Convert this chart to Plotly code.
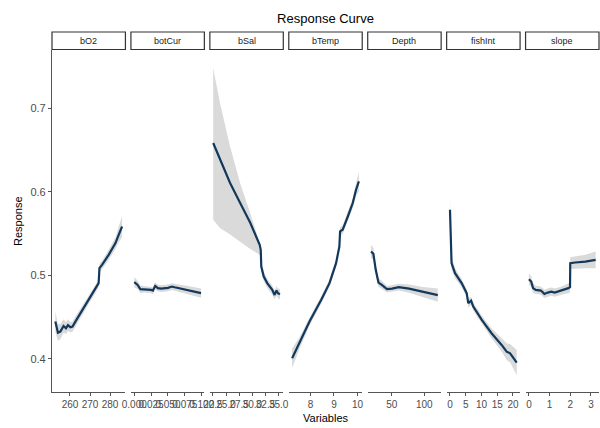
import plotly.graph_objects as go

variables = ["bO2", "botCur", "bSal", "bTemp", "Depth", "fishInt", "slope"]

bO2_x = [252.7, 254, 255.2, 256.8, 258, 259, 260.2, 261.3, 262.7, 266, 269.3, 272.7, 274.3, 274.7, 276, 279.3, 282.7, 284.3, 286]
bO2_y = [0.4447, 0.4315, 0.4327, 0.4395, 0.4368, 0.4404, 0.438, 0.4387, 0.4447, 0.4578, 0.4707, 0.4835, 0.4907, 0.5086, 0.5126, 0.5245, 0.5386, 0.5485, 0.5584]
bO2_lo = [0.4327, 0.4215, 0.4237, 0.4315, 0.4298, 0.4334, 0.432, 0.4327, 0.4387, 0.4528, 0.4657, 0.4785, 0.4857, 0.5036, 0.5076, 0.5185, 0.5316, 0.5395, 0.5454]
bO2_hi = [0.4567, 0.4415, 0.4417, 0.4475, 0.4438, 0.4474, 0.444, 0.4447, 0.4507, 0.4628, 0.4757, 0.4885, 0.4957, 0.5136, 0.5176, 0.5305, 0.5456, 0.5575, 0.5714]

botCur_x = [0.000, 0.005, 0.009, 0.015, 0.025, 0.0277, 0.031, 0.035, 0.040, 0.050, 0.056, 0.060, 0.070, 0.080, 0.090, 0.099]
botCur_y = [0.4919, 0.4886, 0.4835, 0.4835, 0.4826, 0.4818, 0.4874, 0.4847, 0.4842, 0.485, 0.4866, 0.4858, 0.4842, 0.4826, 0.4802, 0.4787]
botCur_lo = [0.4859, 0.4836, 0.4790, 0.4795, 0.4786, 0.4778, 0.4834, 0.4807, 0.4802, 0.4810, 0.4826, 0.4818, 0.4800, 0.4780, 0.4752, 0.4732]
botCur_hi = [0.4979, 0.4936, 0.4880, 0.4875, 0.4866, 0.4858, 0.4914, 0.4887, 0.4882, 0.4890, 0.4906, 0.4898, 0.4884, 0.4872, 0.4852, 0.4842]

bSal_x = [22.56, 23.85, 25.77, 27.69, 29.62, 31.4, 31.6, 31.7, 32.17, 32.83, 33.79, 34.23, 34.6, 34.87, 35.25]
bSal_y = [0.6583, 0.6383, 0.6104, 0.5865, 0.5625, 0.5365, 0.5305, 0.5105, 0.4986, 0.4907, 0.4826, 0.4766, 0.4818, 0.4787, 0.4775]
bSal_lo = [0.5665, 0.5565, 0.549, 0.5405, 0.5315, 0.5245, 0.524, 0.504, 0.493, 0.485, 0.477, 0.471, 0.476, 0.473, 0.471]
bSal_hi = [0.748, 0.706, 0.654, 0.610, 0.574, 0.541, 0.535, 0.516, 0.504, 0.496, 0.488, 0.482, 0.487, 0.484, 0.484]

bTemp_x = [7.22, 7.53, 7.96, 8.46, 8.81, 9.09, 9.23, 9.26, 9.37, 9.59, 9.80, 9.94, 10.06]
bTemp_y = [0.4008, 0.4188, 0.4447, 0.4707, 0.4907, 0.5146, 0.5345, 0.5525, 0.5545, 0.5704, 0.5865, 0.6024, 0.6123]
bTemp_lo = [0.3888, 0.4118, 0.4397, 0.4662, 0.4862, 0.5101, 0.5300, 0.5475, 0.5495, 0.5649, 0.5805, 0.5949, 0.6003]
bTemp_hi = [0.4128, 0.4258, 0.4497, 0.4752, 0.4952, 0.5191, 0.5390, 0.5575, 0.5595, 0.5759, 0.5925, 0.6099, 0.6243]

Depth_x = [18.3, 21.9, 25.5, 29.7, 34.8, 42.7, 50.5, 60.9, 76.6, 97.3, 120.8]
Depth_y = [0.5285, 0.5257, 0.5066, 0.4914, 0.4886, 0.4835, 0.4842, 0.4859, 0.4842, 0.4802, 0.4763]
Depth_lo = [0.5205, 0.5187, 0.5006, 0.4864, 0.4836, 0.4795, 0.4802, 0.4819, 0.4792, 0.4742, 0.4683]
Depth_hi = [0.5365, 0.5327, 0.5126, 0.4964, 0.4936, 0.4875, 0.4882, 0.4899, 0.4892, 0.4862, 0.4843]

fishInt_x = [0, 0.2, 0.5, 1.6, 3.7, 5.3, 5.8, 6.7, 7.4, 10.1, 13.2, 16.4, 18.0, 19.1, 21.2]
fishInt_y = [0.5784, 0.5305, 0.5146, 0.5026, 0.4907, 0.4787, 0.4667, 0.4698, 0.4626, 0.4467, 0.4308, 0.4168, 0.4087, 0.4068, 0.3956]
fishInt_lo = [0.5634, 0.5205, 0.5066, 0.4966, 0.4857, 0.4737, 0.4617, 0.4648, 0.4576, 0.4417, 0.4248, 0.4088, 0.3987, 0.3958, 0.3806]
fishInt_hi = [0.5934, 0.5405, 0.5226, 0.5086, 0.4957, 0.4837, 0.4717, 0.4748, 0.4676, 0.4517, 0.4368, 0.4248, 0.4187, 0.4178, 0.4106]

slope_x = [0, 0.11, 0.20, 0.33, 0.58, 0.75, 0.91, 1.08, 1.25, 1.58, 1.91, 1.99, 2.00, 2.24, 2.73, 3.23]
slope_y = [0.4954, 0.4926, 0.4847, 0.4826, 0.4818, 0.4778, 0.4794, 0.4806, 0.4794, 0.4818, 0.4847, 0.4859, 0.5146, 0.5154, 0.5165, 0.5186]
slope_lo = [0.4884, 0.4866, 0.4787, 0.4776, 0.4768, 0.4728, 0.4744, 0.4756, 0.4744, 0.4768, 0.4787, 0.4799, 0.5076, 0.5084, 0.5085, 0.5086]
slope_hi = [0.5024, 0.4986, 0.4907, 0.4876, 0.4868, 0.4828, 0.4844, 0.4856, 0.4844, 0.4868, 0.4907, 0.4919, 0.5216, 0.5224, 0.5245, 0.5286]

tick_vals = {
    "bO2": [260, 270, 280],
    "botCur": [0.0, 0.025, 0.05, 0.075, 0.1],
    "bSal": [22.5, 25.0, 27.5, 30.0, 32.5, 35.0],
    "bTemp": [8, 9, 10],
    "Depth": [50, 100],
    "fishInt": [0, 5, 10, 15, 20],
    "slope": [0, 1, 2, 3],
}
tick_text = {
    "bO2": ["260", "270", "280"],
    "botCur": ["0.000", "0.025", "0.050", "0.075", "0.100"],
    "bSal": ["22.5", "25.0", "27.5", "30.0", "32.5", "35.0"],
    "bTemp": ["8", "9", "10"],
    "Depth": ["50", "100"],
    "fishInt": ["0", "5", "10", "15", "20"],
    "slope": ["0", "1", "2", "3"],
}
y_ticks = [0.4, 0.5, 0.6, 0.7]

series = {
    "bO2": (bO2_x, bO2_y, bO2_lo, bO2_hi),
    "botCur": (botCur_x, botCur_y, botCur_lo, botCur_hi),
    "bSal": (bSal_x, bSal_y, bSal_lo, bSal_hi),
    "bTemp": (bTemp_x, bTemp_y, bTemp_lo, bTemp_hi),
    "Depth": (Depth_x, Depth_y, Depth_lo, Depth_hi),
    "fishInt": (fishInt_x, fishInt_y, fishInt_lo, fishInt_hi),
    "slope": (slope_x, slope_y, slope_lo, slope_hi),
}

W, H = 600, 428
ML, MR, MT, MB = 52, 1, 50, 36
plot_w = W - ML - MR
plot_h = H - MT - MB
gap_px = 5.5
n = len(variables)
panel_px = (plot_w - gap_px * (n - 1)) / n

LINE_COL = "#12395b"
BAND_COL = "rgba(205,205,205,0.75)"
AXIS_COL = "#555555"
FONT = "Liberation Sans, Arial, sans-serif"
TICK_FONT = dict(family=FONT, size=10, color="#4d4d4d")

fig = go.Figure()
layout = {}
shapes = []
annotations = []

for i, var in enumerate(variables):
    xs, ys, lo, hi = series[var]
    ax = "" if i == 0 else str(i + 1)
    xref = "x" + ax
    fig.add_trace(go.Scatter(x=xs + xs[::-1], y=hi + lo[::-1], fill="toself", fillcolor=BAND_COL,
                             line=dict(width=0), mode="lines", hoverinfo="skip", showlegend=False,
                             xaxis=xref, yaxis="y"))
    fig.add_trace(go.Scatter(x=xs, y=ys, mode="lines", line=dict(color=LINE_COL, width=2.2),
                             showlegend=False, xaxis=xref, yaxis="y"))
    x0 = (i * (panel_px + gap_px)) / plot_w
    x1 = min(1.0, (i * (panel_px + gap_px) + panel_px) / plot_w)
    span = max(xs) - min(xs)
    layout["xaxis" + ax] = dict(
        domain=[x0, x1], anchor="y", range=[min(xs) - 0.05 * span, max(xs) + 0.05 * span],
        showline=True, linecolor=AXIS_COL, linewidth=1.2, showgrid=False, zeroline=False,
        ticks="outside", ticklen=3, tickcolor=AXIS_COL, tickwidth=1, automargin=False,
        tickvals=tick_vals[var], ticktext=tick_text[var], tickfont=TICK_FONT, tickangle=0,
    )
    shapes.append(dict(type="rect", xref=xref + " domain", yref="paper", x0=0, x1=1,
                       y0=1.0 + 0.5 / plot_h, y1=1.0 + 18 / plot_h,
                       line=dict(color="#333333", width=1.2), fillcolor="white"))
    annotations.append(dict(text=var, xref=xref + " domain", yref="paper", x=0.5,
                            y=1.0 + 9.5 / plot_h, showarrow=False, xanchor="center", yanchor="middle",
                            font=dict(family=FONT, size=9, color="#1a1a1a")))

layout["yaxis"] = dict(range=[0.3605, 0.7695], showline=True, linecolor=AXIS_COL, linewidth=1.2,
                       showgrid=False, zeroline=False, ticks="outside", ticklen=3, tickcolor=AXIS_COL,
                       tickvals=y_ticks, ticktext=["0.4", "0.5", "0.6", "0.7"], automargin=False,
                       tickfont=dict(family=FONT, size=11, color="#4d4d4d"),
                       anchor="x")

annotations.append(dict(text="Response", xref="paper", yref="paper", x=(18 - ML) / plot_w, y=0.5,
                        textangle=-90, showarrow=False, xanchor="center", yanchor="middle",
                        font=dict(family=FONT, size=11, color="black")))
annotations.append(dict(text="Variables", xref="paper", yref="paper", x=0.5, y=-(418 - (H - MB)) / plot_h,
                        showarrow=False, xanchor="center", yanchor="middle",
                        font=dict(family=FONT, size=11, color="black")))

fig.update_layout(
    **layout,
    width=W, height=H, autosize=False,
    margin=dict(l=ML, r=MR, t=MT, b=MB, autoexpand=False),
    paper_bgcolor="white", plot_bgcolor="white",
    title=dict(text="Response Curve", x=0.5, xref="paper", y=1 - 18 / H, yref="container",
               xanchor="center", yanchor="middle", automargin=False,
               font=dict(family=FONT, size=13, color="black")),
    shapes=shapes, annotations=annotations, showlegend=False,
)

fig.write_html("out.html")
